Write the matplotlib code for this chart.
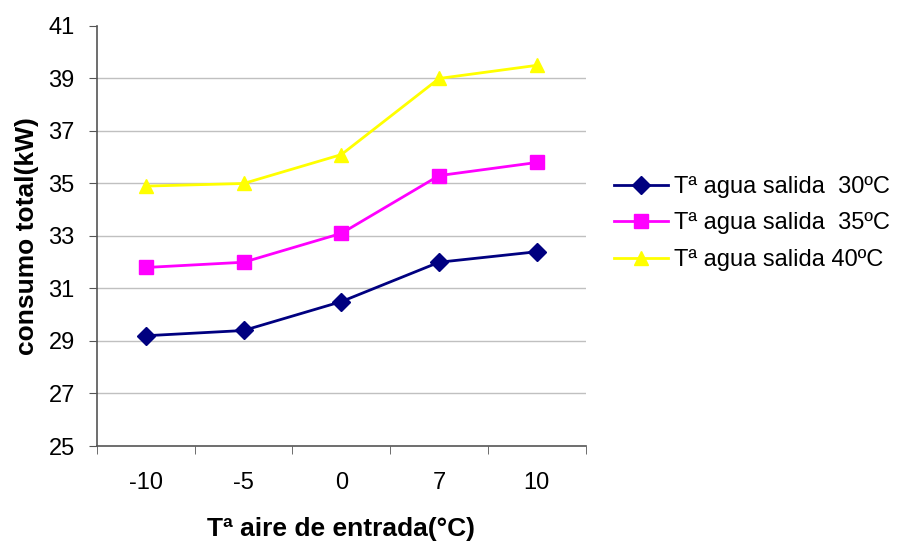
import matplotlib.pyplot as plt
import numpy as np

# consumo total (kW) frente a temperatura del aire de entrada
aire_entrada = ["-10", "-5", "0", "7", "10"]
salida_30 = [29.2, 29.4, 30.5, 32.0, 32.4]
salida_35 = [31.8, 32.0, 33.1, 35.3, 35.8]
salida_40 = [34.9, 35.0, 36.1, 39.0, 39.5]

labels = ["Tª agua salida  30ºC", "Tª agua salida  35ºC", "Tª agua salida 40ºC"]
colors = ["#000080", "#FF00FF", "#FFFF00"]
markers = ["D", "s", "^"]
msizes = [9, 10.5, 10.5]

plt.rcParams["font.family"] = ["Liberation Sans", "DejaVu Sans"]

fig = plt.figure(figsize=(9.01, 5.41), dpi=100)
ax = fig.add_axes([0.1077, 0.1756, 0.5423, 0.7764])

x = np.arange(len(aire_entrada))
for ys, lab, c, m, ms in zip([salida_30, salida_35, salida_40], labels, colors, markers, msizes):
    ax.plot(x, ys, color=c, marker=m, markersize=ms, linewidth=2, label=lab, zorder=3)

ax.set_xlim(-0.5, len(aire_entrada) - 0.5)
ax.set_ylim(25, 41)
ax.set_yticks(np.arange(25, 42, 2))
ax.set_xticks(x)
ax.set_xticklabels(aire_entrada)
ax.set_xticks(np.arange(-0.5, len(aire_entrada), 1), minor=True)
ax.tick_params(axis="x", which="major", length=0, pad=19, labelsize=17)
ax.tick_params(axis="x", which="minor", length=6, color="#555555")
ax.tick_params(axis="y", length=6, color="#555555", pad=10, labelsize=17)

# gridlines skip the top tick
for yv in range(27, 41, 2):
    ax.axhline(yv, color="#c0c0c0", linewidth=1, zorder=1)

for side in ["top", "right"]:
    ax.spines[side].set_visible(False)
for side in ["left", "bottom"]:
    ax.spines[side].set_color("#555555")
    ax.spines[side].set_linewidth(1.2)

ax.set_xlabel("Tª aire de entrada(°C)", fontsize=19, fontweight="bold", labelpad=16)
ax.set_ylabel("consumo total(kW)", fontsize=19, fontweight="bold", labelpad=7)

ax.legend(loc="center left", bbox_to_anchor=(0.681, 0.587), bbox_transform=fig.transFigure,
          frameon=False, fontsize=17, handlelength=2.3, handletextpad=0.25,
          labelspacing=0.62, borderaxespad=0, borderpad=0)

fig.savefig("out.png", dpi=100)
